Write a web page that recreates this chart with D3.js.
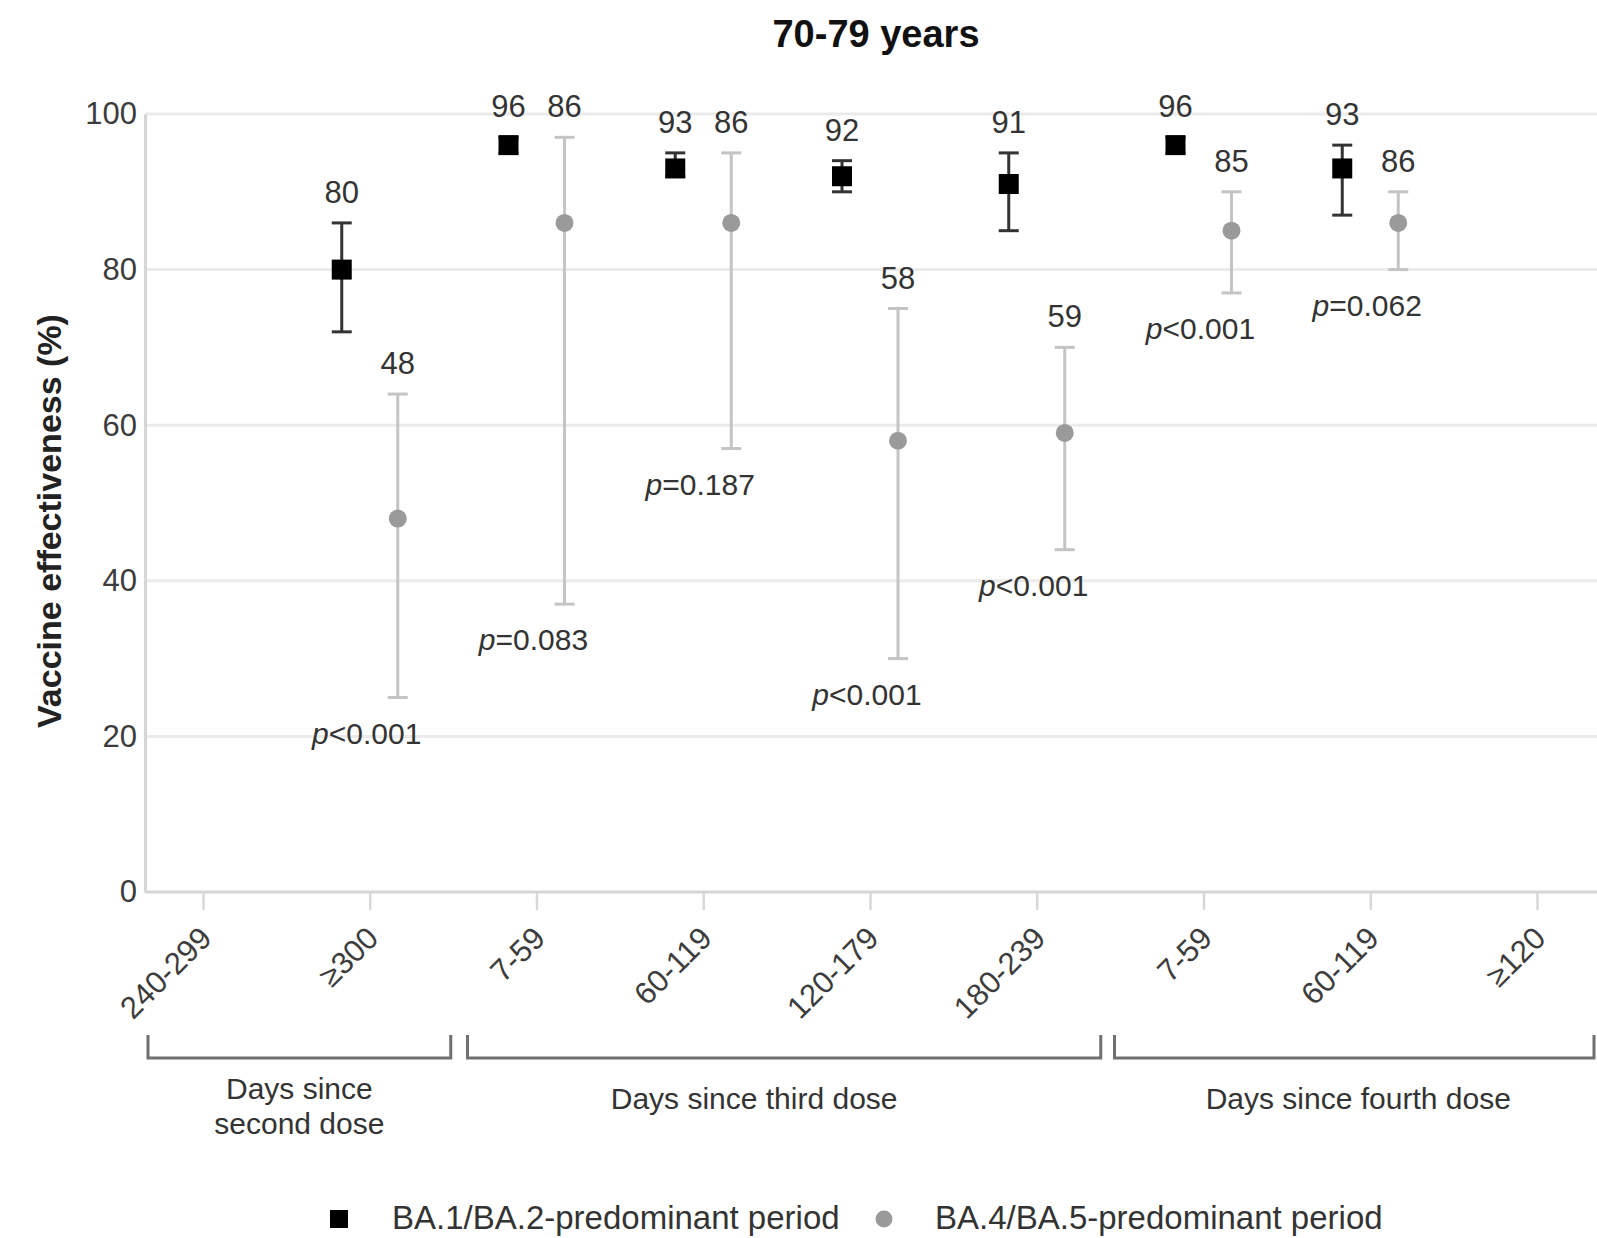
<!DOCTYPE html>
<html>
<head>
<meta charset="utf-8">
<script src="https://cdn.jsdelivr.net/npm/d3@7"></script>
<style>
  html, body { margin: 0; padding: 0; background: #fff; }
  svg { display: block; font-family: "Liberation Sans", Arial, Helvetica, sans-serif; }
</style>
</head>
<body>
<svg id="chart" width="1597" height="1238"></svg>
<script>
// Time-since-dose categories along the x axis
const tickLabels = ["240-299", "\u2265300", "7-59", "60-119", "120-179", "180-239", "7-59", "60-119", "\u2265120"];

// BA.1/BA.2-predominant period: estimate and 95% CI (null = not estimated)
const ba12Est  = [null, 80, 96, 93, 92, 91, 96, 93, null];
const ba12Low  = [null, 72, 95, 92, 90, 85, 95, 87, null];
const ba12High = [null, 86, 97, 95, 94, 95, 97, 96, null];

// BA.4/BA.5-predominant period: estimate and 95% CI
const ba45Est  = [null, 48, 86, 86, 58, 59, 85, 86, null];
const ba45Low  = [null, 25, 37, 57, 30, 44, 77, 80, null];
const ba45High = [null, 64, 97, 95, 75, 70, 90, 90, null];

// p-values comparing the two periods
const pValues = [null, "<0.001", "=0.083", "=0.187", "<0.001", "<0.001", "<0.001", "=0.062", null];

// Dose groupings shown as brackets under the axis
const groupLabels = [["Days since", "second dose"], ["Days since third dose"], ["Days since fourth dose"]];
const groupFirst = [0, 2, 6];
const groupLast  = [1, 5, 8];

const yTicks = [0, 20, 40, 60, 80, 100];
const seriesNames = ["BA.1/BA.2-predominant period", "BA.4/BA.5-predominant period"];

const W = 1597;
const FONT = '"Liberation Sans", Arial, Helvetica, sans-serif';
const svg = d3.select("#chart");

const plotLeft = 145;
const y = d3.scaleLinear().domain([0, 100]).range([892, 114]);
const x = d3.scalePoint().domain(d3.range(tickLabels.length)).range([203, 1537]);
const dodge = 28;

// Title
svg.append("text")
  .attr("x", 876).attr("y", 47)
  .attr("text-anchor", "middle")
  .attr("font-size", 38).attr("font-weight", "bold")
  .attr("fill", "#111")
  .text("70-79 years");

// Horizontal gridlines
svg.append("g").selectAll("line")
  .data(yTicks.filter(v => v > 0))
  .join("line")
  .attr("x1", plotLeft).attr("x2", W)
  .attr("y1", d => y(d)).attr("y2", d => y(d))
  .attr("stroke", "#ebebeb").attr("stroke-width", 3);

// Baseline at 0
svg.append("line")
  .attr("x1", plotLeft).attr("x2", W)
  .attr("y1", y(0)).attr("y2", y(0))
  .attr("stroke", "#d6d6d6").attr("stroke-width", 3);

// Y axis
const yAxis = svg.append("g")
  .attr("transform", `translate(${plotLeft},0)`)
  .call(d3.axisLeft(y).tickValues(yTicks).tickSize(0).tickPadding(8));
yAxis.attr("font-family", FONT).attr("font-size", 31);
yAxis.select(".domain").attr("stroke", "#d6d6d6").attr("stroke-width", 3);
yAxis.selectAll("text").attr("fill", "#3c3c3c");

// Y axis title
svg.append("text")
  .attr("transform", "translate(61,521) rotate(-90)")
  .attr("text-anchor", "middle")
  .attr("font-size", 34).attr("font-weight", "bold")
  .attr("fill", "#222")
  .text("Vaccine effectiveness (%)");

// X axis ticks and rotated labels
const xAxis = svg.append("g")
  .attr("transform", `translate(0,${y(0)})`)
  .call(d3.axisBottom(x).tickSize(18).tickFormat(i => tickLabels[i]));
xAxis.attr("font-family", FONT).attr("font-size", 31);
xAxis.select(".domain").remove();
xAxis.selectAll(".tick line").attr("stroke", "#d8d8d8").attr("stroke-width", 2.5);
xAxis.selectAll(".tick text")
  .attr("x", 0).attr("y", 0).attr("dy", null)
  .attr("text-anchor", "end")
  .attr("fill", "#3c3c3c")
  .attr("transform", "translate(10,48) rotate(-45)");

// Error bars + markers for one series
function drawSeries(est, lo, hi, dx, whiskerColor, markerColor, shape) {
  const idx = d3.range(est.length).filter(i => est[i] != null);
  const g = svg.append("g");
  const cap = 10;
  g.selectAll("line.stem").data(idx).join("line")
    .attr("class", "stem")
    .attr("x1", i => x(i) + dx).attr("x2", i => x(i) + dx)
    .attr("y1", i => y(lo[i])).attr("y2", i => y(hi[i]))
    .attr("stroke", whiskerColor).attr("stroke-width", 3);
  g.selectAll("line.capHi").data(idx).join("line")
    .attr("class", "capHi")
    .attr("x1", i => x(i) + dx - cap).attr("x2", i => x(i) + dx + cap)
    .attr("y1", i => y(hi[i])).attr("y2", i => y(hi[i]))
    .attr("stroke", whiskerColor).attr("stroke-width", 3);
  g.selectAll("line.capLo").data(idx).join("line")
    .attr("class", "capLo")
    .attr("x1", i => x(i) + dx - cap).attr("x2", i => x(i) + dx + cap)
    .attr("y1", i => y(lo[i])).attr("y2", i => y(lo[i]))
    .attr("stroke", whiskerColor).attr("stroke-width", 3);
  if (shape === "square") {
    g.selectAll("rect").data(idx).join("rect")
      .attr("x", i => x(i) + dx - 10).attr("y", i => y(est[i]) - 10)
      .attr("width", 20).attr("height", 20)
      .attr("fill", markerColor);
  } else {
    g.selectAll("circle").data(idx).join("circle")
      .attr("cx", i => x(i) + dx).attr("cy", i => y(est[i]))
      .attr("r", 9)
      .attr("fill", markerColor);
  }
  // Estimate labels above the upper CI
  g.selectAll("text").data(idx).join("text")
    .attr("x", i => x(i) + dx).attr("y", i => y(hi[i]) - 20)
    .attr("text-anchor", "middle")
    .attr("font-size", 31).attr("fill", "#333")
    .text(i => est[i]);
}

drawSeries(ba12Est, ba12Low, ba12High, -dodge, "#333", "#000", "square");
drawSeries(ba45Est, ba45Low, ba45High, dodge, "#c4c4c4", "#9a9a9a", "circle");

// p-value annotations below each pair
const pIdx = d3.range(pValues.length).filter(i => pValues[i] != null);
const pText = svg.append("g").selectAll("text").data(pIdx).join("text")
  .attr("x", i => x(i) - 3)
  .attr("y", i => Math.max(y(ba12Low[i]), y(ba45Low[i])) + 46)
  .attr("text-anchor", "middle")
  .attr("font-size", 30).attr("fill", "#333");
pText.append("tspan").attr("font-style", "italic").text("p");
pText.append("tspan").text(i => pValues[i]);

// Dose-group brackets
const bracketPadL = [55, 69, 89];
const bracketPadR = [81, 64, 57];
const labelShift = [0, -30, 4];
const bracketTop = 1035, bracketBottom = 1058;
groupLabels.forEach((lines, k) => {
  const left = x(groupFirst[k]) - bracketPadL[k];
  const right = x(groupLast[k]) + bracketPadR[k];
  svg.append("path")
    .attr("d", `M${left},${bracketTop}V${bracketBottom}H${right}V${bracketTop}`)
    .attr("fill", "none").attr("stroke", "#707070").attr("stroke-width", 3);
  const cx = (left + right) / 2 + labelShift[k];
  const t = svg.append("text")
    .attr("text-anchor", "middle")
    .attr("font-size", 30).attr("fill", "#333");
  const baseY = lines.length > 1 ? 1099 : 1109;
  lines.forEach((ln, j) => {
    t.append("tspan").attr("x", cx).attr("y", baseY + j * 35).text(ln);
  });
});

// Legend
const legend = svg.append("g").attr("font-size", 33).attr("fill", "#333");
legend.append("rect").attr("x", 330).attr("y", 1210).attr("width", 18).attr("height", 18).attr("fill", "#000");
legend.append("text").attr("x", 392).attr("y", 1229).text(seriesNames[0]);
legend.append("circle").attr("cx", 884).attr("cy", 1219).attr("r", 8.5).attr("fill", "#9a9a9a");
legend.append("text").attr("x", 935).attr("y", 1229).text(seriesNames[1]);
</script>
</body>
</html>
